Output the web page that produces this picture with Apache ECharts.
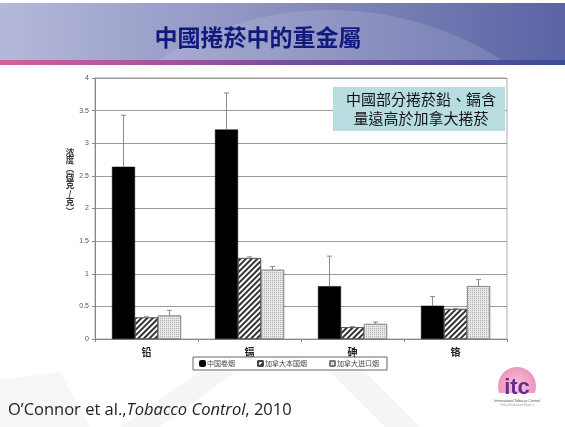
<!DOCTYPE html>
<html><head><meta charset="utf-8">
<script src="https://cdn.jsdelivr.net/npm/echarts@6/dist/echarts.min.js"></script>
<style>html,body{margin:0;padding:0;background:#fff}#c{width:565px;height:427px}</style>
</head><body><div id="c"></div>
<script>
var categories = ['铅', '镉', '砷', '铬'];
var seriesNames = ['中国卷烟', '加拿大本国烟', '加拿大进口烟'];
var chinaVals = [2.64, 3.21, 0.81, 0.51];
var chinaErr = [3.43, 3.77, 1.27, 0.65];
var canDomVals = [0.33, 1.24, 0.18, 0.46];
var canDomErr = [0.34, 1.26, 0.19, 0.47];
var canImpVals = [0.36, 1.06, 0.23, 0.81];
var canImpErr = [0.44, 1.11, 0.26, 0.91];
var yTicks = [0, 0.5, 1, 1.5, 2, 2.5, 3, 3.5, 4];

var vals = [chinaVals, canDomVals, canImpVals];
var errs = [chinaErr, canDomErr, canImpErr];
var GAP = 0.33;

var styles = [
  {color: '#000', borderColor: '#000', borderWidth: 0.5},
  {color: '#fff', borderColor: '#444', borderWidth: 0.6,
   decal: {symbol: 'rect', symbolSize: 1, color: '#333', dashArrayX: [1, 0], dashArrayY: [1.5, 1.4], rotation: -Math.PI / 4}},
  {color: '#e6e6e6', borderColor: '#777', borderWidth: 0.6,
   decal: {symbol: 'rect', symbolSize: 1, color: '#b0b0b0', dashArrayX: [1, 1], dashArrayY: [1, 1], rotation: 0}}
];

var series = [];
for (var k = 0; k < 3; k++) {
  series.push({
    name: seriesNames[k], type: 'bar', data: vals[k],
    barGap: '0%', barCategoryGap: (GAP * 100) + '%',
    itemStyle: styles[k], z: 2
  });
}
for (var k2 = 0; k2 < 3; k2++) {
  (function (k) {
    var d = [];
    for (var i = 0; i < categories.length; i++) d.push([i, vals[k][i], errs[k][i]]);
    series.push({
      type: 'custom', z: 3, silent: true, data: d,
      encode: {x: 0, y: [1, 2]},
      renderItem: function (params, api) {
        var i = api.value(0);
        var b = api.coord([i, api.value(1)]);
        var t = api.coord([i, api.value(2)]);
        var bw = api.size([1, 0])[0] * (1 - GAP) / 3;
        var x = b[0] + (k - 1) * bw;
        var st = {stroke: '#8a8a8a', lineWidth: 1};
        return {type: 'group', children: [
          {type: 'line', shape: {x1: x, y1: b[1], x2: x, y2: t[1]}, style: st},
          {type: 'line', shape: {x1: x - 2.5, y1: t[1], x2: x + 2.5, y2: t[1]}, style: st}
        ]};
      }
    });
  })(k2);
}

var chart = echarts.init(document.getElementById('c'), null, {renderer: 'canvas'});
chart.setOption({
  animation: false,
  backgroundColor: '#fff',
  grid: {left: 95, right: 58, top: 78, bottom: 88, show: true, borderColor: '#aaa', borderWidth: 1, backgroundColor: 'transparent'},
  xAxis: {
    type: 'category', data: categories,
    axisLine: {lineStyle: {color: '#888'}},
    axisTick: {show: true, length: 3, lineStyle: {color: '#888'}},
    axisLabel: {color: '#222', fontSize: 10, fontWeight: 'bold', margin: 8, fontFamily: 'Noto Sans CJK SC'}
  },
  yAxis: {
    type: 'value', min: yTicks[0], max: yTicks[yTicks.length - 1], interval: 0.5,
    axisLine: {show: true, lineStyle: {color: '#888'}},
    axisTick: {show: true, length: 3, lineStyle: {color: '#888'}},
    splitLine: {lineStyle: {color: '#9a9a9a', width: 1}},
    axisLabel: {color: '#555', fontSize: 7, margin: 6, fontFamily: 'Liberation Sans'}
  },
  legend: {
    data: seriesNames, left: 193, top: 357, width: 192,
    itemWidth: 5, itemHeight: 5, itemGap: 22,
    padding: [3, 8, 3, 6],
    borderColor: '#666', borderWidth: 1,
    textStyle: {fontSize: 7, color: '#444', fontFamily: 'Noto Sans CJK SC', padding: [0, 0, 0, -3]}
  },
  graphic: [
    {type: 'polygon', z: -20, shape: {points: [[120, 427], [200, 372], [235, 372], [160, 427]]}, style: {fill: '#f4f4f4'}},
    {type: 'polygon', z: -20, shape: {points: [[0, 380], [60, 372], [90, 427], [0, 427]]}, style: {fill: '#f6f6f6'}},
    {type: 'polygon', z: -20, shape: {points: [[330, 372], [365, 372], [420, 427], [385, 427]]}, style: {fill: '#f4f4f4'}},
    {type: 'rect', left: 0, top: 3, z: -10, shape: {width: 565, height: 57},
     style: {fill: new echarts.graphic.LinearGradient(0, 0, 1, 0, [
       {offset: 0, color: '#b4b8da'}, {offset: 0.45, color: '#8e93c2'}, {offset: 1, color: '#5a64a4'}])}},
    {type: 'circle', z: -9, shape: {cx: 330, cy: 330, r: 320}, style: {fill: 'rgba(255,255,255,0.12)'}, silent: true},
    {type: 'rect', left: 0, top: 0, z: -8, shape: {width: 565, height: 3}, style: {fill: '#fff'}},
    {type: 'rect', left: 0, top: 60, z: -7, shape: {width: 565, height: 5},
     style: {fill: new echarts.graphic.LinearGradient(0, 0, 1, 0, [
       {offset: 0, color: '#d6609c'}, {offset: 0.5, color: '#7a4e9c'}, {offset: 1, color: '#3a4c98'}])}},
    {type: 'rect', left: 0, top: 65, z: -30, shape: {width: 565, height: 362}, style: {fill: '#fff'}},
    {type: 'text', x: 258, y: 37, style: {text: '中國捲菸中的重金屬', fill: '#0f1a7c', font: 'bold 23px "Noto Sans CJK TC"', textAlign: 'center', textVerticalAlign: 'middle'}},
    {type: 'rect', left: 333, top: 87, z: 5, shape: {width: 172, height: 44}, style: {fill: '#b8dde1'}},
    {type: 'text', x: 421, y: 109, z: 6, style: {text: '中國部分捲菸鉛、鎘含\n量遠高於加拿大捲菸', fill: '#111', font: '15px "Noto Sans CJK TC"', lineHeight: 19, textAlign: 'center', textVerticalAlign: 'middle'}},
    {type: 'text', x: 70, y: 181, style: {text: '浓\n度\n︵\n微\n克\n/\n克\n︶', fill: '#333', font: 'bold 8.5px "Noto Sans CJK SC"', lineHeight: 8.4, textAlign: 'center', textVerticalAlign: 'middle'}},
    {type: 'text', left: 8, top: 402, style: {
      text: '{n|O\u2019Connor et al.,}{i|Tobacco Control}{n|, 2010}',
      rich: {n: {font: '16.5px "Open Sans"', fill: '#222'}, i: {font: 'italic 16.5px "Open Sans"', fill: '#222'}}}},
    {type: 'circle', shape: {cx: 517, cy: 386, r: 19}, style: {fill: new echarts.graphic.RadialGradient(0.5, 0.5, 0.6, [
      {offset: 0, color: '#f6c6dc'}, {offset: 1, color: '#ea8cb8'}])}},
    {type: 'rect', shape: {x: 488, y: 393, width: 58, height: 16}, style: {fill: '#fff'}},
    {type: 'text', x: 517, y: 388, style: {text: 'itc', fill: '#6a2c8c', font: 'bold 22px "Liberation Sans"', textAlign: 'center', textVerticalAlign: 'middle'}},
    {type: 'text', x: 517, y: 401, style: {text: 'International Tobacco Control', fill: '#555', font: '3.5px "Liberation Sans"', textAlign: 'center', textVerticalAlign: 'middle'}},
    {type: 'text', x: 517, y: 405, style: {text: 'Policy Evaluation Project', fill: '#999', font: '3px "Liberation Sans"', textAlign: 'center', textVerticalAlign: 'middle'}}
  ],
  series: series
});
</script></body></html>
